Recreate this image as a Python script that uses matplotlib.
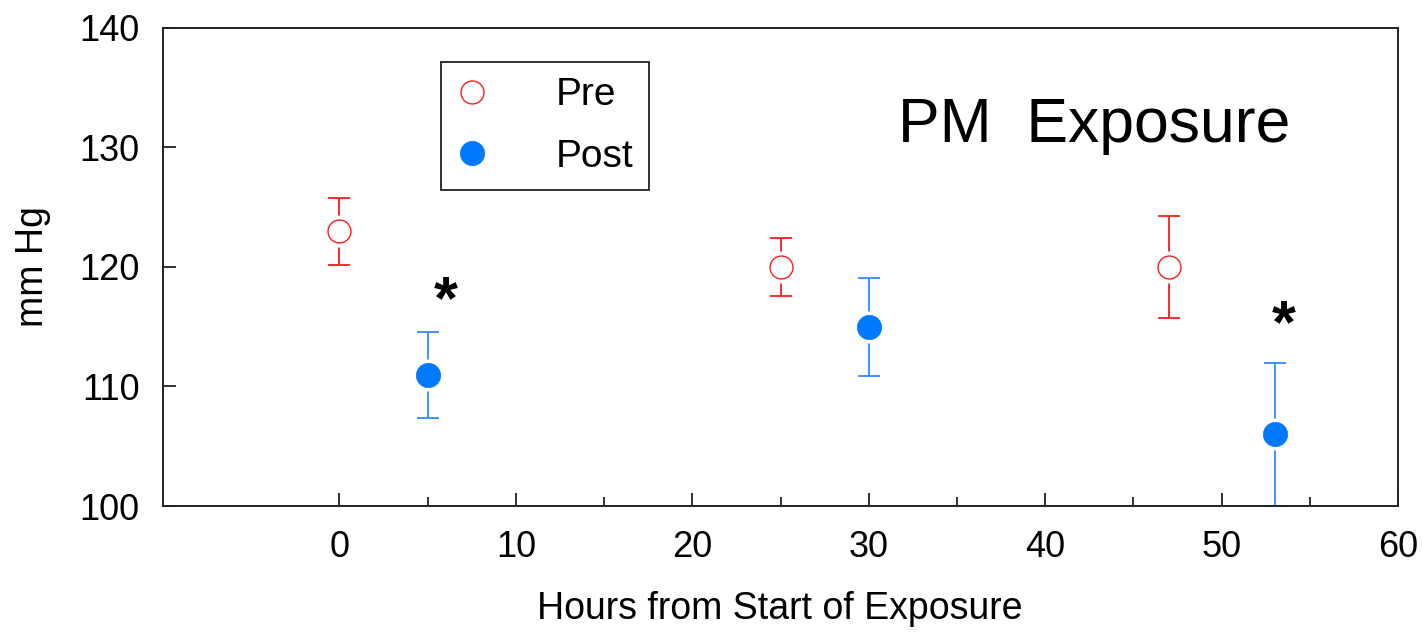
import matplotlib
matplotlib.use("Agg")
import matplotlib.pyplot as plt
import matplotlib.transforms as mtransforms
from matplotlib.ticker import MultipleLocator, FixedLocator

plt.rcParams['font.family'] = ['Liberation Sans', 'DejaVu Sans']

# blood pressure before / after exposure sessions
pre_hours = [0, 25, 47]
pre_mean = [123.0, 120.0, 120.0]
pre_err = [2.8, 2.4, 4.3]

post_hours = [5, 30, 53]
post_mean = [111.0, 115.0, 106.0]
post_err = [3.6, 4.1, 6.0]

# significance marks
star_hours = [6.0, 53.5]
star_mmhg = [118.3, 116.3]

RED = '#ff1a1a'
BLUE = '#0078ff'
BLUE_BAR = '#2b8cff'

fig = plt.figure(figsize=(14.28, 6.32), dpi=100)
ax = fig.add_axes([163 / 1428, 126 / 632, 1235 / 1428, 478 / 632])

# error bars first, then a white halo so the bars stop short of the markers
ax.errorbar(pre_hours, pre_mean, yerr=pre_err, fmt='none', ecolor=RED,
            elinewidth=1.3, capsize=8, capthick=1.3, zorder=2)
ax.errorbar(post_hours, post_mean, yerr=post_err, fmt='none', ecolor=BLUE_BAR,
            elinewidth=1.3, capsize=8, capthick=1.3, zorder=2)
ax.plot(pre_hours + post_hours, pre_mean + post_mean, 'o', ms=22,
        mfc='white', mec='white', zorder=3)
pre_line, = ax.plot(pre_hours, pre_mean, 'o', ms=16.5, mfc='white', mec=RED,
                    mew=1.0, zorder=4, label='Pre')
post_line, = ax.plot(post_hours, post_mean, 'o', ms=17.5, mfc=BLUE, mec=BLUE,
                     mew=0.5, zorder=4, label='Post')

star_tr = mtransforms.offset_copy(ax.transData, fig=fig, x=0, y=-11, units='points')
for xs, ys in zip(star_hours, star_mmhg):
    ax.text(xs, ys, '*', fontsize=44, fontweight='bold', ha='center',
            va='center', transform=star_tr, zorder=5)

ax.text(42.8, 130.5, 'PM  Exposure', fontsize=45, ha='center', va='baseline')

ax.set_xlim(-10, 60)
ax.set_ylim(100, 140)
ax.xaxis.set_major_locator(FixedLocator([0, 10, 20, 30, 40, 50, 60]))
ax.xaxis.set_minor_locator(FixedLocator([5, 15, 25, 35, 45, 55]))
ax.yaxis.set_major_locator(MultipleLocator(10))

ax.tick_params(which='both', direction='in', top=False, right=False,
               width=1.3, colors='#222222', labelcolor='black', labelsize=26)
ax.tick_params(which='major', length=9.5, pad=17)
ax.tick_params(which='minor', length=6.5)
for s in ax.spines.values():
    s.set_linewidth(1.4)
    s.set_color('#222222')

ax.set_xlabel('Hours from Start of Exposure', fontsize=27)
ax.set_ylabel('mm Hg', fontsize=27)
ax.xaxis.set_label_coords(0.4996, -0.178)
ax.yaxis.set_label_coords(-0.091, 0.50)

leg = ax.legend(handles=[pre_line, post_line], loc='upper left',
                bbox_to_anchor=(0.225, 0.929), fontsize=28, frameon=True,
                fancybox=False, edgecolor='#222222', framealpha=1,
                numpoints=1, handlelength=0.8, handletextpad=1.75,
                borderpad=0.4, labelspacing=0.65, borderaxespad=0)
leg.get_frame().set_linewidth(1.3)

fig.savefig('out.png', dpi=100, facecolor='white')
